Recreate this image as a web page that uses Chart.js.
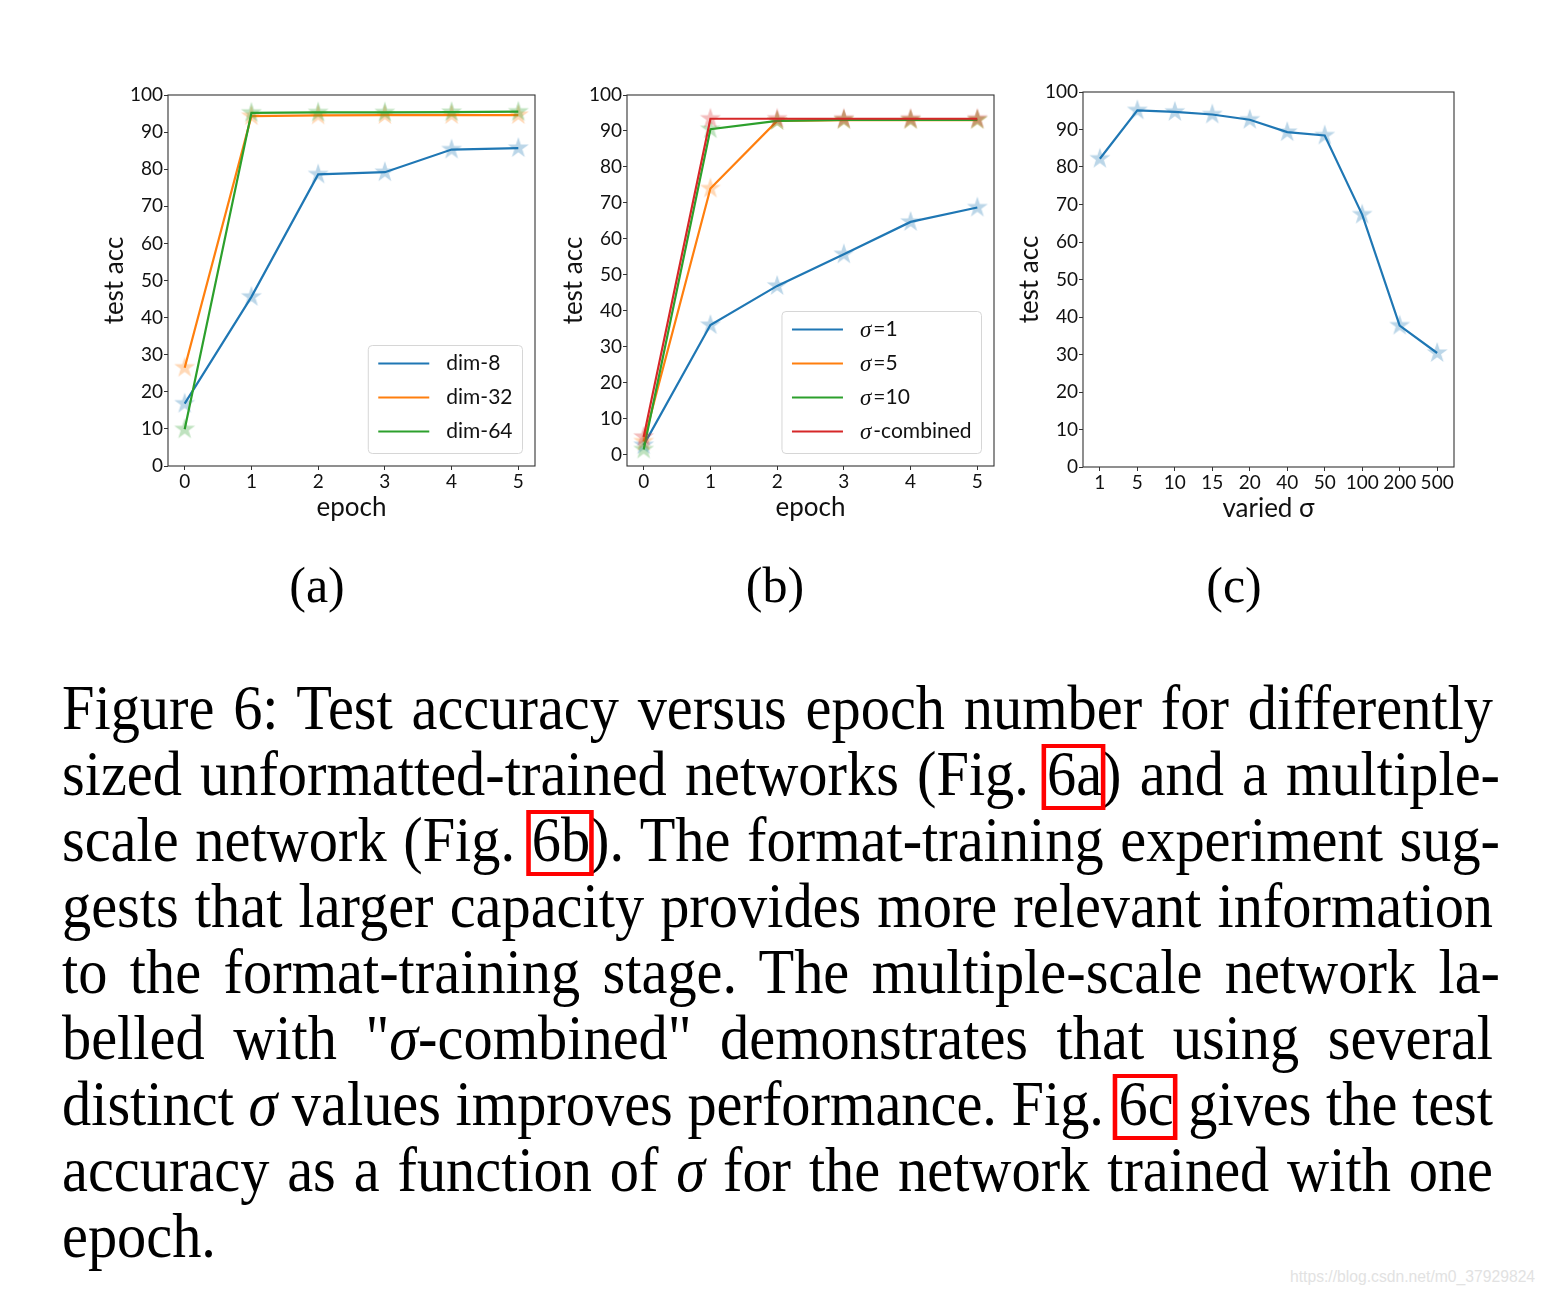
<!DOCTYPE html>
<html>
<head>
<meta charset="utf-8">
<script src="https://cdn.jsdelivr.net/npm/chart.js@4.4.0/dist/chart.umd.min.js"></script>
<style>
  body { margin: 0; background: #fff; width: 1546px; height: 1297px; position: relative; overflow: hidden; }
  canvas { position: absolute; }
  .sub { position: absolute; font-family: "Liberation Serif", serif; font-size: 50px; transform: translate(-50%, -50%); }
  #caption { position: absolute; left: 62px; top: 675px; width: 4000px; font-family: "Liberation Serif", serif;
             font-size: 64px; line-height: 66px; color: #000; transform-origin: 0 0; }
  #caption .ln { text-align: left; }
  #caption.just .ln { text-align: justify; text-align-last: justify; }
  #caption.just .ln.last { text-align-last: left; }
  .ref { position: relative; }
  .ref::after { content: ''; position: absolute; left: -6px; right: -4px; top: 6px; bottom: -1px;
                border: 4px solid #f00; border-left-width: 5px; border-right-width: 5px; }
  #wm { position: absolute; left: 1290px; top: 1268px; font-family: "Liberation Sans", sans-serif;
        font-size: 15.7px; color: #e2e2e2; }
</style>
</head>
<body>
<canvas id="chartA"></canvas>
<canvas id="chartB"></canvas>
<canvas id="chartC"></canvas>

<div class="sub" style="left:317px;top:585px">(a)</div>
<div class="sub" style="left:775px;top:585px">(b)</div>
<div class="sub" style="left:1234px;top:585px">(c)</div>

<div id="caption">
  <div class="ln"><span>Figure 6: Test accuracy versus epoch number for differently</span></div>
  <div class="ln hy"><span>sized unformatted-trained networks (Fig. <span class="ref">6a</span>) and a multiple-</span></div>
  <div class="ln hy"><span>scale network (Fig. <span class="ref">6b</span>). The format-training experiment sug-</span></div>
  <div class="ln"><span>gests that larger capacity provides more relevant information</span></div>
  <div class="ln hy"><span>to the format-training stage. The multiple-scale network la-</span></div>
  <div class="ln"><span>belled with "<i>σ</i>-combined" demonstrates that using several</span></div>
  <div class="ln"><span>distinct <i>σ</i> values improves performance. Fig. <span class="ref">6c</span> gives the test</span></div>
  <div class="ln"><span>accuracy as a function of <i>σ</i> for the network trained with one</span></div>
  <div class="ln last"><span>epoch.</span></div>
</div>

<div id="wm">https://blog.csdn.net/m0_37929824</div>

<script>
// values
const epochs = [0, 1, 2, 3, 4, 5];
const accTicks = [0, 10, 20, 30, 40, 50, 60, 70, 80, 90, 100];

const dim8  = [16.8, 45.6, 78.6, 79.2, 85.3, 85.7];
const dim32 = [26.5, 94.3, 94.5, 94.6, 94.6, 94.6];
const dim64 = [9.9, 95.2, 95.3, 95.3, 95.4, 95.5];

const sigma1     = [2.6, 36.0, 46.9, 55.7, 64.7, 68.7];
const sigma5     = [3.6, 74.0, 92.8, 93.0, 93.0, 93.0];
const sigma10    = [1.4, 90.5, 92.8, 93.1, 93.1, 93.1];
const sigmaComb  = [4.9, 93.4, 93.4, 93.4, 93.4, 93.4];

const sigmaLabels = ['1', '5', '10', '15', '20', '40', '50', '100', '200', '500'];
const sigmaAcc    = [82.2, 95.1, 94.7, 94.0, 92.6, 89.3, 88.4, 67.3, 37.7, 30.4];

const C_BLUE = '#1f77b4', C_ORANGE = '#ff7f0e', C_GREEN = '#2ca02c', C_RED = '#d62728';
const SANS = 'Lato';

// filled 5-point star, like matplotlib's '*' marker with alpha
function makeStar(color, r) {
  const c = document.createElement('canvas');
  c.width = c.height = Math.ceil(2 * r + 2);
  const g = c.getContext('2d');
  const cx = c.width / 2, cy = c.height / 2, ri = r * 0.382;
  g.beginPath();
  for (let i = 0; i < 10; i++) {
    const rr = i % 2 ? ri : r;
    const a = -Math.PI / 2 + i * Math.PI / 5;
    g.lineTo(cx + rr * Math.cos(a), cy + rr * Math.sin(a));
  }
  g.closePath();
  g.globalAlpha = 0.3;
  g.fillStyle = color;
  g.fill();
  return c;
}

function series(label, xs, ys, color, order) {
  return {
    label: label,
    data: xs.map((x, i) => ({ x: x, y: ys[i] })),
    borderColor: color,
    backgroundColor: color,
    borderWidth: 2.2,
    tension: 0,
    pointStyle: makeStar(color, 11),
    pointRadius: 10,
    clip: false,
    order: order
  };
}

// frame around the plot area
const framePlugin = {
  id: 'frame',
  afterDatasetsDraw(chart) {
    const { ctx, chartArea: a } = chart;
    ctx.save();
    ctx.strokeStyle = '#333';
    ctx.lineWidth = 1.1;
    ctx.strokeRect(a.left, a.top, a.right - a.left, a.bottom - a.top);
    ctx.restore();
  }
};

function drawLabel(ctx, text, x, y, measureOnly) {
  let w = 0;
  if (text.startsWith('σ')) {
    ctx.font = 'italic 23px "Liberation Serif"';
    if (!measureOnly) ctx.fillText('σ', x, y + 1);
    w += ctx.measureText('σ').width + 2;
    text = text.slice(1);
  }
  ctx.font = '21px ' + SANS;
  if (!measureOnly) ctx.fillText(text, x + w, y);
  w += ctx.measureText(text).width;
  return w;
}

// matplotlib-like legend in the lower right of the plot area
const boxLegend = {
  id: 'boxLegend',
  afterDraw(chart, args, opts) {
    if (!opts.show) return;
    const { ctx, chartArea: a } = chart;
    const sets = chart.data.datasets;
    ctx.save();
    ctx.textBaseline = 'middle';
    const tw = Math.max(...sets.map(ds => drawLabel(ctx, ds.label, 0, 0, true)));
    const w = 78 + tw + 10, h = sets.length * 34 + 6;
    const x = a.right - 12.5 - w, y = a.bottom - 12.5 - h;
    ctx.beginPath();
    ctx.roundRect(x, y, w, h, 4);
    ctx.fillStyle = 'rgba(255,255,255,0.8)';
    ctx.fill();
    ctx.strokeStyle = '#d6d6d6';
    ctx.lineWidth = 1;
    ctx.stroke();
    sets.forEach((ds, i) => {
      const cy = y + 18 + i * 34;
      ctx.beginPath();
      ctx.moveTo(x + 10, cy);
      ctx.lineTo(x + 61, cy);
      ctx.strokeStyle = ds.borderColor;
      ctx.lineWidth = 2.2;
      ctx.stroke();
      ctx.fillStyle = '#111';
      drawLabel(ctx, ds.label, x + 78, cy, false);
    });
    ctx.restore();
  }
};

const tickFont = { family: SANS, size: 19 };
const titleFont = { family: SANS, size: 26 };
const gridCfg = { drawOnChartArea: false, drawTicks: true, tickLength: 4, color: '#333', lineWidth: 1 };

function makeChart(id, plot, datasets, xCfg, yMin, showLegend) {
  const canvas = document.getElementById(id);
  const W = plot.w + 80 + 30, H = plot.h + 20 + 70;
  canvas.width = W; canvas.height = H;
  canvas.style.left = (plot.l - 80) + 'px';
  canvas.style.top = (plot.t - 20) + 'px';
  return new Chart(canvas.getContext('2d'), {
    type: 'line',
    data: { datasets: datasets },
    options: {
      responsive: false,
      animation: false,
      events: [],
      layout: { padding: { top: 20, right: 30, left: 0, bottom: 0 }, autoPadding: false },
      plugins: { legend: { display: false }, tooltip: { enabled: false }, boxLegend: { show: showLegend } },
      scales: {
        x: {
          type: 'linear',
          min: xCfg.min, max: xCfg.max,
          afterBuildTicks: s => { s.ticks = xCfg.ticks.map(v => ({ value: v })); },
          afterFit: s => { s.height = 70; },
          grid: gridCfg,
          border: { display: false },
          ticks: { color: '#111', font: tickFont, padding: 0, maxRotation: 0, autoSkip: false,
                   callback: xCfg.fmt || (v => String(v)) },
          title: { display: true, text: xCfg.title, color: '#111', font: titleFont, padding: { top: 0, bottom: 13 } }
        },
        y: {
          type: 'linear',
          min: yMin, max: 100,
          afterBuildTicks: s => { s.ticks = accTicks.map(v => ({ value: v })); },
          afterFit: s => { s.width = 80; },
          grid: gridCfg,
          border: { display: false },
          ticks: { color: '#111', font: tickFont, padding: 1 },
          title: { display: true, text: 'test acc', color: '#111', font: titleFont, padding: { top: 11, bottom: 0 } }
        }
      }
    },
    plugins: [framePlugin, boxLegend]
  });
}

const epochAxis = { min: -0.25, max: 5.25, ticks: epochs, title: 'epoch' };
const sigmaIdx = sigmaLabels.map((_, i) => i);

makeChart('chartA', { l: 168, t: 95, w: 367, h: 371 }, [
  series('dim-8', epochs, dim8, C_BLUE, 2),
  series('dim-32', epochs, dim32, C_ORANGE, 1),
  series('dim-64', epochs, dim64, C_GREEN, 0)
], epochAxis, 0, true);

makeChart('chartB', { l: 627, t: 95, w: 367, h: 371 }, [
  series('σ=1', epochs, sigma1, C_BLUE, 3),
  series('σ=5', epochs, sigma5, C_ORANGE, 2),
  series('σ=10', epochs, sigma10, C_GREEN, 1),
  series('σ-combined', epochs, sigmaComb, C_RED, 0)
], epochAxis, -3.2, true);

makeChart('chartC', { l: 1083, t: 92, w: 371, h: 375 }, [
  series('acc', sigmaIdx, sigmaAcc, C_BLUE, 0)
], { min: -0.45, max: 9.45, ticks: sigmaIdx, title: 'varied σ', fmt: v => sigmaLabels[v] }, 0, false);

// justify the caption: condensed serif, one div per line
document.fonts.ready.then(() => {
  const cap = document.getElementById('caption');
  const lines = [...cap.querySelectorAll('.ln')];
  let s = Infinity;
  lines.forEach(l => {
    if (l.classList.contains('last')) return;
    const w = l.firstElementChild.getBoundingClientRect().width;
    const target = l.classList.contains('hy') ? 1438 : 1431;
    s = Math.min(s, target / w);
  });
  cap.style.width = (1431 / s) + 'px';
  lines.forEach(l => { if (l.classList.contains('hy')) l.style.marginRight = (-7 / s) + 'px'; });
  cap.style.transform = 'scaleX(' + s + ')';
  cap.classList.add('just');
});
</script>
</body>
</html>
